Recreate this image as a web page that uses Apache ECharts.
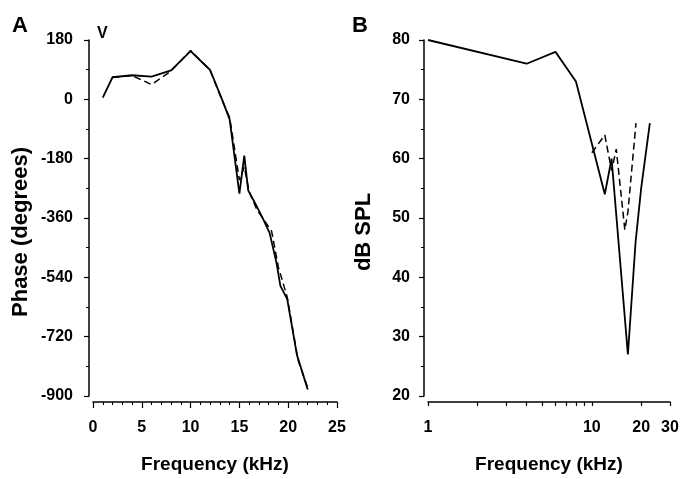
<!DOCTYPE html>
<html>
<head>
<meta charset="utf-8">
<script src="https://cdn.jsdelivr.net/npm/echarts@6/dist/echarts.min.js"></script>
<style>
  html, body { margin: 0; padding: 0; background: #fff; }
  #main { width: 683px; height: 479px; }
</style>
</head>
<body>
<div id="main"></div>
<script>
// panel A: phase vs frequency (kHz)
var phaseFreqSolid = [1, 2, 4, 6, 8, 10, 12, 13.3, 14, 15, 15.5, 15.9, 16.8, 17.4, 18.1, 18.8, 19.2, 19.9, 20.9, 22];
var phaseSolid     = [5, 67, 73, 69, 88, 146, 89, -6, -61, -286, -171, -276, -326, -361, -406, -496, -566, -606, -776, -880];
var phaseFreqDash  = [2, 4, 6, 8, 10, 12, 13.3, 14, 15, 15.5, 16, 16.8, 17.6, 18.3, 19, 19.9, 21, 22];
var phaseDash      = [67, 72, 45, 86, 148, 88, -8, -55, -245, -205, -280, -335, -370, -400, -510, -600, -790, -875];

// panel B: threshold (dB SPL) vs frequency (kHz, log)
var splFreqSolid = [1, 4, 6, 8, 12, 13.2, 16.6, 18.5, 20, 22.6];
var splSolid     = [80, 76, 78, 73, 54, 60, 27, 46, 55, 66];
var splFreqDash  = [10, 12, 13.2, 14.1, 15.9, 16.6, 18.6];
var splDash      = [61, 64, 58, 61.6, 48, 51, 66];
var logTicks     = [1, 2, 3, 4, 5, 6, 7, 8, 9, 10, 20, 30];
var logLabels    = [1, 10, 20, 30];

function pairs(xs, ys) {
  return xs.map(function (x, i) { return [x, ys[i]]; });
}

var font = 'Liberation Sans, Arial, sans-serif';
var axisLine = { onZero: false, lineStyle: { color: '#000', width: 1.5 } };
var labelStyle = { color: '#000', fontSize: 16, fontWeight: 'bold', fontFamily: font };
var xNameStyle = { color: '#000', fontSize: 19, fontWeight: 'bold', fontFamily: font };
// rotated y names sit a bit below the middle of the axis
var yNameStyle = { color: '#000', fontSize: 22, fontWeight: 'bold', fontFamily: font, padding: [0, 28, 0, 0] };

var myChart = echarts.init(document.getElementById('main'));

myChart.setOption({
  backgroundColor: '#fff',
  animation: false,
  grid: [
    { left: 93, right: 346, top: 40, bottom: 82 },
    { left: 428, right: 13, top: 40, bottom: 82 }
  ],
  graphic: [
    { type: 'text', left: 12, top: 15, style: { text: 'A', fontSize: 22, fontWeight: 'bold', fontFamily: font, fill: '#000' } },
    { type: 'text', left: 352, top: 15, style: { text: 'B', fontSize: 22, fontWeight: 'bold', fontFamily: font, fill: '#000' } },
    { type: 'text', left: 97, top: 26, style: { text: 'V', fontSize: 16, fontWeight: 'bold', fontFamily: font, fill: '#000' } }
  ],
  xAxis: [
    {
      gridIndex: 0, type: 'value', min: 0, max: 25, interval: 5, offset: 6,
      name: 'Frequency (kHz)', nameLocation: 'middle', nameGap: 53, nameTextStyle: xNameStyle,
      axisLine: axisLine,
      axisTick: { length: 6, lineStyle: { color: '#000', width: 1.2 } },
      minorTick: { show: true, splitNumber: 5, length: 3, lineStyle: { color: '#000', width: 1 } },
      axisLabel: Object.assign({ margin: 18 }, labelStyle),
      splitLine: { show: false }
    },
    {
      gridIndex: 1, type: 'log', logBase: 10, min: 1, max: 30, offset: 6,
      name: 'Frequency (kHz)', nameLocation: 'middle', nameGap: 53, nameTextStyle: xNameStyle,
      axisLine: axisLine,
      axisTick: { length: 4, customValues: logTicks, lineStyle: { color: '#000', width: 1.2 } },
      axisLabel: Object.assign({ margin: 18, customValues: logLabels }, labelStyle),
      splitLine: { show: false }
    }
  ],
  yAxis: [
    {
      gridIndex: 0, type: 'value', min: -900, max: 180, interval: 180, offset: 4,
      name: 'Phase (degrees)', nameLocation: 'middle', nameGap: 57, nameTextStyle: yNameStyle,
      axisLine: axisLine,
      axisTick: { length: 5, lineStyle: { color: '#000', width: 1.2 } },
      minorTick: { show: true, splitNumber: 2, length: 3, lineStyle: { color: '#000', width: 1 } },
      axisLabel: Object.assign({ margin: 16 }, labelStyle),
      splitLine: { show: false }
    },
    {
      gridIndex: 1, type: 'value', min: 20, max: 80, interval: 10, offset: 4,
      name: 'dB SPL', nameLocation: 'middle', nameGap: 49, nameTextStyle: yNameStyle,
      axisLine: axisLine,
      axisTick: { length: 5, lineStyle: { color: '#000', width: 1.2 } },
      minorTick: { show: true, splitNumber: 2, length: 3, lineStyle: { color: '#000', width: 1 } },
      axisLabel: Object.assign({ margin: 14 }, labelStyle),
      splitLine: { show: false }
    }
  ],
  series: [
    {
      type: 'line', xAxisIndex: 0, yAxisIndex: 0, data: pairs(phaseFreqDash, phaseDash),
      showSymbol: false, lineStyle: { color: '#000', width: 1.5, type: [7, 4] }
    },
    {
      type: 'line', xAxisIndex: 0, yAxisIndex: 0, data: pairs(phaseFreqSolid, phaseSolid),
      showSymbol: false, lineStyle: { color: '#000', width: 1.8 }
    },
    {
      type: 'line', xAxisIndex: 1, yAxisIndex: 1, data: pairs(splFreqDash, splDash),
      showSymbol: false, lineStyle: { color: '#000', width: 1.5, type: [7, 4] }
    },
    {
      type: 'line', xAxisIndex: 1, yAxisIndex: 1, data: pairs(splFreqSolid, splSolid),
      showSymbol: false, lineStyle: { color: '#000', width: 1.8 }
    }
  ]
});
</script>
</body>
</html>
